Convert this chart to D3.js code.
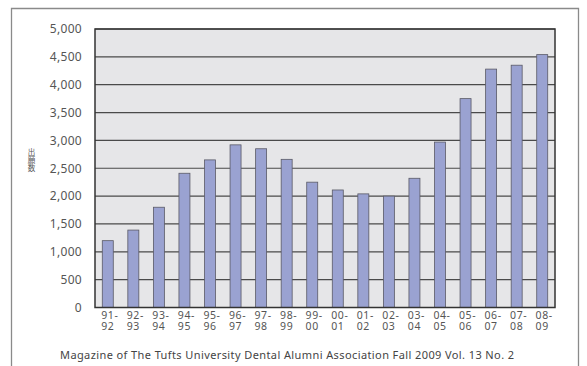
<!DOCTYPE html>
<html><head><meta charset="utf-8">
<script src="https://cdn.jsdelivr.net/npm/d3@7"></script>
<style>body{margin:0;background:#fff;} svg{display:block;}</style>
</head><body>
<script>
const categories = ["91-92","92-93","93-94","94-95","95-96","96-97","97-98","98-99","99-00","00-01","01-02","02-03","03-04","04-05","05-06","06-07","07-08","08-09"];
const values = [1200,1390,1800,2410,2650,2920,2850,2660,2250,2110,2040,2000,2320,2970,3750,4280,4350,4540];
const yTicks = [0,500,1000,1500,2000,2500,3000,3500,4000,4500,5000];
const yLabel = "出願数";
const caption = "Magazine of The Tufts University Dental Alumni Association Fall 2009 Vol. 13 No. 2";

const W=587,H=366;
const svg=d3.select("body").append("svg").attr("width",W).attr("height",H);
const font="'Noto Sans', 'DejaVu Sans', sans-serif";
// outer frame
svg.append("path").attr("d","M11.5,366 V8.5 H578.5 V366").attr("fill","none").attr("stroke","#8a8a8a").attr("stroke-width",1.3);

const L=95,R=555,T=29,B=307.5;
const x=d3.scaleBand().domain(categories).range([L,R]).paddingInner(0.57).paddingOuter(0.285);
const y=d3.scaleLinear().domain([0,5000]).range([B,T]);

svg.append("rect").attr("x",L).attr("y",T).attr("width",R-L).attr("height",B-T).attr("fill","#e6e6e8");
svg.selectAll(".grid").data(yTicks.filter(d=>d>0)).enter().append("line")
 .attr("x1",L).attr("x2",R).attr("y1",d=>y(d)).attr("y2",d=>y(d))
 .attr("stroke","#4a4a4a").attr("stroke-width",1.2);

svg.selectAll(".bar").data(values).enter().append("rect")
 .attr("x",(d,i)=>x(categories[i])).attr("width",x.bandwidth())
 .attr("y",d=>y(d)).attr("height",d=>B-y(d))
 .attr("fill","#9aa2d1").attr("stroke","#5a5a66").attr("stroke-width",0.8);

svg.append("rect").attr("x",L).attr("y",T).attr("width",R-L).attr("height",B-T).attr("fill","none").attr("stroke","#333").attr("stroke-width",1.5);

// y axis labels
const yAxis=d3.axisLeft(y).tickValues(yTicks).tickSize(0).tickPadding(13).tickFormat(d3.format(","));
const ga=svg.append("g").attr("transform",`translate(${L},0)`).call(yAxis);
ga.select(".domain").remove();
ga.selectAll("text").attr("font-family",font).attr("font-size",12).attr("fill","#555").attr("letter-spacing",0.3);

// x labels
categories.forEach((c,i)=>{
  const [a,b]=c.split("-");
  const cx=x(c)+x.bandwidth()/2;
  const t=svg.append("text").attr("text-anchor","middle").attr("font-family",font).attr("font-size",10.5).attr("fill","#555").attr("letter-spacing",0.6);
  t.append("tspan").attr("x",cx+2).attr("y",319).text(a+"-");
  t.append("tspan").attr("x",cx).attr("y",330).text(b);
});

// y label (vertical)
svg.append("text").attr("x",31.5).attr("y",148)
   .style("writing-mode","vertical-rl").style("text-orientation","upright")
   .attr("font-family","'Noto Sans CJK JP', sans-serif").attr("font-size",7.5).attr("letter-spacing",0.8).attr("fill","#555").text(yLabel);

svg.append("text").attr("x",60).attr("y",359).attr("font-family",font).attr("font-size",11).attr("fill","#444").attr("letter-spacing",0.4).text(caption);
</script>
</body></html>
